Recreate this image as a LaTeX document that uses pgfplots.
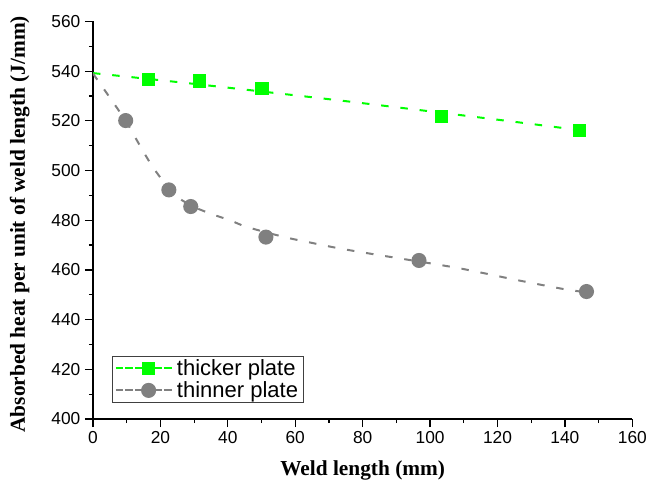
\documentclass[border=0pt]{standalone}
\usepackage{fontspec}
\setmainfont{Liberation Sans}
\newfontfamily\labelfont{Liberation Serif}
\usepackage{pgfplots}
\pgfplotsset{compat=1.18}

\definecolor{thickgreen}{RGB}{0,255,0}
\definecolor{thingray}{RGB}{128,128,128}

\begin{document}
\begin{tikzpicture}
\path[use as bounding box] (-69.75pt,-50.25pt) rectangle (425.25pt,314.25pt);
\begin{axis}[
  at={(0,0)}, anchor=south west,
  scale only axis,
  width=404.5pt, height=298.2pt,
  xmin=0, xmax=160,
  ymin=400, ymax=560,
  xtick={0,20,...,160},
  ytick={400,420,...,560},
  minor tick num=1,
  axis x line*=bottom,
  axis y line*=left,
  axis line style={-, line width=1pt},
  tick align=outside,
  major tick length=6pt,
  minor tick length=3pt,
  tick style={line width=0.9pt, black},
  /pgf/number format/assume math mode=true,
  ticklabel style={font=\fontsize{13}{15}\selectfont},
  xlabel={\labelfont\bfseries Weld length (mm)},
  ylabel={\labelfont\bfseries Absorbed heat per unit of weld length (J/mm)},
  xlabel style={at={(axis description cs:0.5,-0.13)}, anchor=center, font=\fontsize{16}{19}\selectfont},
  ylabel style={at={(axis description cs:-0.136,0.49)}, anchor=center, font=\fontsize{16}{19}\selectfont},
  legend image code/.code={
    \path (0pt,0pt) -- (43pt,0pt);
    \draw[#1, solid, line width=1.5pt] (7pt,0pt) -- (13pt,0pt);
    \draw[#1, solid, line width=1.5pt] (36pt,0pt) -- (42pt,0pt);
    \path[#1] plot coordinates {(24.5pt,0pt)};},
  legend cell align=left,
  legend style={at={(rel axis cs:0.035,0.04)}, anchor=south west,
    font=\fontsize{16.5}{19.5}\selectfont, draw=black!75, line width=0.6pt,
    inner xsep=2pt, inner ysep=0.5pt, row sep=-1pt,
    nodes={inner sep=2pt}},
  every axis plot/.append style={line width=1.5pt, dash pattern=on 5.6pt off 8.9pt},
]

% fitted curves
\addplot[thickgreen, smooth, forget plot] coordinates {
  (0,539.2) (25,535.6) (50,531.8) (75,527.9) (100,523.8) (125,519.6) (144,516.3)
};
\addplot[thingray, smooth, forget plot] coordinates {
  (0,539) (4.5,530.3) (9.7,520) (13,512.2) (15.9,505.4) (18.4,500.1) (23.8,490.7)
  (29,486) (34.7,482.7) (40.6,480) (45.6,477.3) (56.5,473.3) (63.4,471.3)
  (73.3,468.6) (85.1,465.9) (91.1,464.6) (108.9,460.6) (125.8,455.9)
  (139.6,452.3) (146.4,451)
};

% measured values
\addplot[only marks, mark=square*, mark size=4.25pt, thickgreen,
  mark options={solid, draw=none, fill=thickgreen}, forget plot] coordinates {
  (16.4,536.7) (31.5,536.0) (50.1,533.1) (103.4,521.7) (144.3,516.2)
};
\addplot[only marks, mark=*, mark size=4.9pt, thingray,
  mark options={solid, draw=none, fill=thingray}, forget plot] coordinates {
  (9.7,520.1) (22.5,492.2) (29.0,485.5) (51.3,473.2) (96.7,463.8) (146.4,451.3)
};

\addlegendimage{thickgreen, mark=square*, mark size=4.25pt,
  mark options={solid, draw=none, fill=thickgreen}}
\addlegendentry{thicker plate}
\addlegendimage{thingray, mark=*, mark size=4.9pt,
  mark options={solid, draw=none, fill=thingray}}
\addlegendentry{thinner plate}
\end{axis}
\end{tikzpicture}
\end{document}
